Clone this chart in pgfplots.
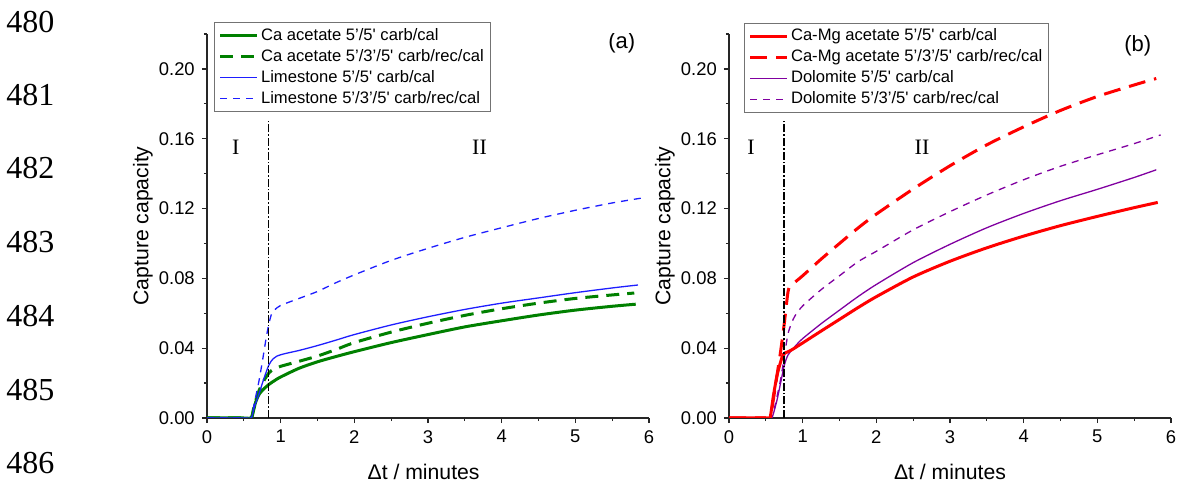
\documentclass[border=0pt]{standalone}
\usepackage{pgfplots}
\pgfplotsset{compat=1.18}
\usepackage{fontspec}
\setmainfont{Liberation Sans}
\newfontfamily\serif{Liberation Serif}
\newcommand\sq{\textquotesingle}

\definecolor{cagreen}{RGB}{0,128,0}
\definecolor{limeblue}{RGB}{30,30,255}
\definecolor{camgred}{RGB}{255,0,0}
\definecolor{dolpurple}{RGB}{128,0,160}

\pgfplotsset{
  capstyle/.style={
    scale only axis, width=221pt, height=192pt,
    xmin=0, xmax=6, ymin=0, ymax=0.22,
    axis lines=left,
    axis line style={-, line width=0.8pt, black!85},
    xtick={0,1,2,3,4,5,6},
    minor xtick={0.5,1.5,2.5,3.5,4.5,5.5},
    ytick={0,0.04,0.08,0.12,0.16,0.20},
    minor ytick={0.02,0.06,0.10,0.14,0.18,0.22},
    scaled y ticks=false,
    tick align=outside,
    major tick length=2.6pt, minor tick length=1.6pt,
    tick style={line width=0.6pt, black!85},
    tick label style={font=\fontsize{9.2}{10}\selectfont},
    /pgf/number format/assume math mode=true,
    yticklabel style={/pgf/number format/.cd, fixed, fixed zerofill, precision=2},
    xlabel={Δt / minutes},
    ylabel={Capture capacity},
    label style={font=\fontsize{10.6}{12}\selectfont},
    xlabel style={at={(axis description cs:0.49,-0.14)}, anchor=center},
    ylabel style={at={(axis description cs:-0.145,0.5)}, anchor=center},
    legend style={anchor=north west, draw=black!55, line width=0.6pt, fill=white,
      font=\fontsize{8.3}{9.5}\selectfont, inner xsep=2pt, inner ysep=1.5pt,
      row sep=0.6pt, cells={anchor=west}, nodes={inner sep=1.2pt}},
    legend image code/.code={\draw[#1] (0pt,0pt) -- (18.5pt,0pt);},
    legend cell align=left,
  },
  thickline/.style={line width=1.5pt},
  thinline/.style={line width=0.65pt},
  longdash/.style={dash pattern=on 6.5pt off 4pt},
  reddash/.style={dash pattern=on 8.5pt off 4.5pt},
  shortdash/.style={dash pattern=on 3.5pt off 3pt},
  boundary/.style={black, line width=0.8pt, dash pattern=on 4pt off 1pt on 0.8pt off 1pt},
  curve/.style={smooth, tension=0.45},
}

\begin{document}
\begin{tikzpicture}
\path[use as bounding box] (0,0) rectangle (589pt,243pt);

% line numbers of the page
\foreach \n/\y in {480/21.7,481/95,482/168,483/242,484/316,485/390,486/463}{
  \node[anchor=west, inner sep=0pt, font=\serif\fontsize{16}{16}\selectfont]
    at (3pt,{(486-\y)*0.5pt}) {\n};
}

% (a) Ca acetate and limestone
\begin{axis}[capstyle, at={(103.5pt,34pt)}, anchor=south west,
  legend style={at={(0.016,1.031)}}]
\addplot[cagreen, thickline, curve] coordinates {
 (0,0)(0.5,0)(0.6,0)(0.63,0.004)(0.66,0.009)(0.7,0.013)(0.75,0.0158)(0.84,0.0192)
 (0.92,0.0215)(1.0,0.0235)(1.25,0.0285)(1.5,0.0322)(1.75,0.0352)(2.0,0.038)
 (2.5,0.0432)(3.0,0.0478)(3.5,0.0522)(4.0,0.0557)(4.5,0.059)(5.0,0.0618)
 (5.5,0.064)(5.82,0.0652)};
\addlegendentry{Ca acetate 5’/5\sq{} carb/cal}
\addplot[cagreen, thickline, longdash, curve] coordinates {
 (0,0)(0.5,0)(0.6,0)(0.64,0.007)(0.7,0.015)(0.76,0.0205)(0.84,0.0258)(0.9,0.0278)
 (1.0,0.0296)(1.25,0.0325)(1.5,0.0355)(1.75,0.0392)(2.0,0.0432)(2.5,0.0492)
 (3.0,0.0543)(3.5,0.0588)(4.0,0.0626)(4.5,0.0658)(5.0,0.0685)(5.5,0.0705)
 (5.8,0.0716)};
\addlegendentry{Ca acetate 5’/3’/5\sq{} carb/rec/cal}
\addplot[limeblue, thinline, curve] coordinates {
 (0,0)(0.5,0)(0.6,0)(0.64,0.006)(0.7,0.013)(0.76,0.021)(0.84,0.0304)(0.9,0.034)
 (0.95,0.0355)(1.05,0.0368)(1.25,0.0387)(1.5,0.0415)(1.75,0.0446)(2.0,0.0478)
 (2.5,0.0533)(3.0,0.058)(3.5,0.0622)(4.0,0.0658)(4.5,0.0688)(5.0,0.0718)
 (5.5,0.0745)(5.85,0.0762)};
\addlegendentry{Limestone 5’/5\sq{} carb/cal}
\addplot[limeblue, thinline, shortdash, curve] coordinates {
 (0,0)(0.5,0)(0.6,0)(0.64,0.008)(0.7,0.02)(0.75,0.032)(0.8,0.045)(0.84,0.054)
 (0.88,0.060)(0.92,0.062)(1.0,0.0645)(1.25,0.0685)(1.5,0.0725)(1.75,0.0775)
 (2.0,0.082)(2.5,0.0903)(3.0,0.0972)(3.5,0.1035)(4.0,0.109)(4.5,0.1143)
 (5.0,0.119)(5.5,0.1232)(5.9,0.126)};
\addlegendentry{Limestone 5’/3’/5\sq{} carb/rec/cal}
\addplot[boundary, forget plot] coordinates {(0.837,0)(0.837,0.17)};
\node[font=\serif\fontsize{11}{11}\selectfont] at (axis cs:0.39,0.155) {I};
\node[font=\serif\fontsize{11}{11}\selectfont] at (axis cs:3.70,0.155) {II};
\node[font=\fontsize{11}{11}\selectfont] at (axis cs:5.63,0.215) {(a)};
\end{axis}

% (b) Ca-Mg acetate and dolomite
\begin{axis}[capstyle, at={(364.5pt,34pt)}, anchor=south west,
  xlabel style={at={(axis description cs:0.5,-0.14)}},
  legend style={at={(0.034,1.029)}}]
\addlegendimage{camgred, thickline}
\addlegendentry{Ca-Mg acetate 5’/5\sq{} carb/cal}
\addlegendimage{camgred, thickline, reddash}
\addlegendentry{Ca-Mg acetate 5’/3’/5\sq{} carb/rec/cal}
\addlegendimage{dolpurple, thinline}
\addlegendentry{Dolomite 5’/5\sq{} carb/cal}
\addlegendimage{dolpurple, thinline, shortdash}
\addlegendentry{Dolomite 5’/3’/5\sq{} carb/rec/cal}
\addplot[dolpurple, thinline, curve, forget plot] coordinates {
 (0,0)(0.5,0)(0.58,0)(0.65,0.01)(0.7,0.02)(0.75,0.03)(0.8,0.036)(0.9,0.0412)
 (1.0,0.0455)(1.25,0.054)(1.5,0.0618)(1.75,0.0695)(2.0,0.0765)(2.5,0.089)
 (3.0,0.0995)(3.5,0.109)(4.0,0.1172)(4.5,0.1245)(5.0,0.131)(5.5,0.1378)
 (5.8,0.1422)};
\addplot[dolpurple, thinline, shortdash, curve, forget plot] coordinates {
 (0,0)(0.5,0)(0.58,0)(0.65,0.012)(0.7,0.022)(0.75,0.035)(0.8,0.048)(0.85,0.0545)
 (0.9,0.0588)(1.0,0.0642)(1.25,0.0735)(1.5,0.0815)(1.75,0.0895)(2.0,0.0955)
 (2.5,0.1078)(3.0,0.1182)(3.5,0.1278)(4.0,0.1365)(4.5,0.1442)(5.0,0.1508)
 (5.5,0.1572)(5.86,0.1622)};
\addplot[camgred, thickline, reddash, curve, forget plot] coordinates {
 (0,0)(0.5,0)(0.556,0)(0.6,0.01)(0.65,0.024)(0.7,0.038)(0.75,0.054)(0.8,0.072)
 (0.83,0.0755)(0.9,0.078)(1.0,0.0815)(1.25,0.091)(1.5,0.1)(1.75,0.1088)
 (2.0,0.1168)(2.5,0.1312)(3.0,0.1445)(3.5,0.1565)(4.0,0.1668)(4.5,0.1762)
 (5.0,0.1842)(5.5,0.1908)(5.8,0.1945)};
\addplot[camgred, thickline, curve, forget plot] coordinates {
 (0,0)(0.5,0)(0.556,0)(0.6,0.012)(0.65,0.024)(0.7,0.032)(0.74,0.0365)(0.85,0.039)
 (1.0,0.043)(1.25,0.0498)(1.5,0.0565)(1.75,0.0632)(2.0,0.0695)(2.5,0.0808)
 (3.0,0.0898)(3.5,0.0975)(4.0,0.1042)(4.5,0.1102)(5.0,0.1155)(5.5,0.1205)
 (5.82,0.1235)};
\addplot[boundary, forget plot] coordinates {(0.75,0)(0.75,0.17)};
\node[font=\serif\fontsize{11}{11}\selectfont] at (axis cs:0.30,0.155) {I};
\node[font=\serif\fontsize{11}{11}\selectfont] at (axis cs:2.62,0.155) {II};
\node[font=\fontsize{11}{11}\selectfont] at (axis cs:5.55,0.2135) {(b)};
\end{axis}
\end{tikzpicture}
\end{document}
